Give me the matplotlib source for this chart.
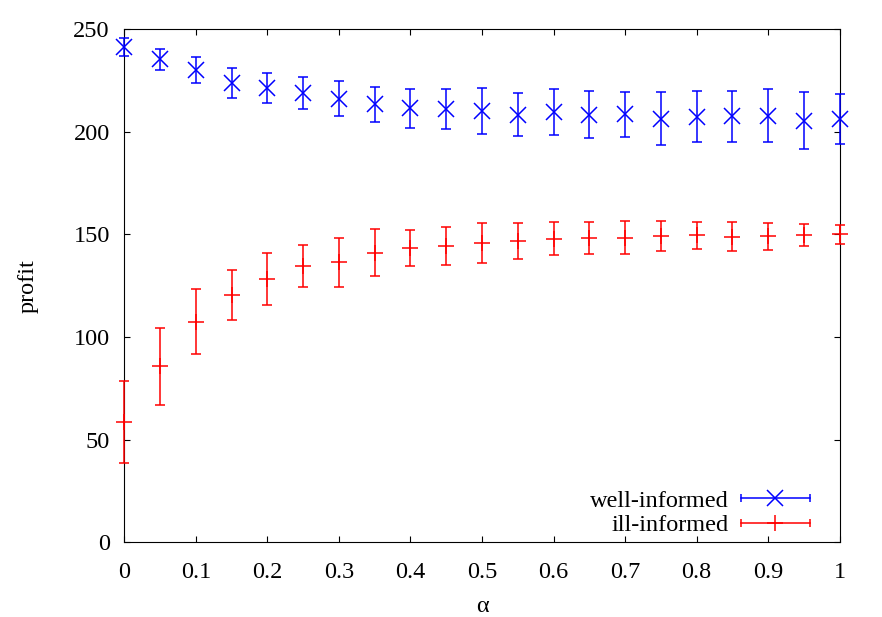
import numpy as np
import matplotlib
matplotlib.use("Agg")
import matplotlib.pyplot as plt
from matplotlib.lines import Line2D
from matplotlib.legend_handler import HandlerLine2D, HandlerTuple

plt.rcParams.update({"font.family": "Liberation Serif", "font.size": 17.5})

alpha = [0, 0.05, 0.1, 0.15, 0.2, 0.25, 0.3, 0.35, 0.4, 0.45, 0.5,
         0.55, 0.6, 0.65, 0.7, 0.75, 0.8, 0.85, 0.9, 0.95, 1.0]

well_mean = [241.1, 235.2, 230.0, 223.9, 221.5, 218.7, 216.0, 213.3, 211.4, 211.2, 210.0,
             208.2, 209.5, 208.3, 208.5, 206.3, 207.2, 207.4, 207.7, 205.4, 206.2]
well_err = [4.3, 5.1, 6.4, 7.3, 7.3, 7.8, 8.6, 8.6, 9.6, 9.8, 11.3,
            10.5, 11.1, 11.6, 11.0, 12.8, 12.4, 12.3, 12.9, 13.8, 12.2]

ill_mean = [58.8, 85.8, 107.5, 120.6, 128.3, 134.6, 136.4, 141.1, 143.4, 144.5, 145.7,
            146.9, 147.9, 148.2, 148.4, 149.1, 149.6, 148.9, 149.1, 149.7, 150.1]
ill_err = [20.0, 18.7, 15.8, 12.2, 12.8, 10.4, 11.9, 11.6, 8.9, 9.3, 9.6,
           8.7, 8.2, 7.8, 8.0, 7.2, 6.6, 7.0, 6.6, 5.4, 4.6]

fig = plt.figure(figsize=(8.82, 6.17), dpi=100)
ax = fig.add_axes([0.141, 0.121, 0.811, 0.832])

blue = "#0000ff"
red = "#ff0000"
lw = 1.1

ax.errorbar(alpha, well_mean, yerr=well_err, fmt="x", color=blue, ms=11.5,
            mew=lw, elinewidth=lw, capsize=3.6, capthick=lw, clip_on=False, zorder=3)
ax.errorbar(alpha, ill_mean, yerr=ill_err, fmt="+", color=red, ms=11.5,
            mew=lw, elinewidth=lw, capsize=3.6, capthick=lw, clip_on=False, zorder=3)

ax.set_xlim(0, 1)
ax.set_ylim(0, 250)
ax.set_xticks(np.arange(0, 1.01, 0.1))
ax.set_xticklabels(["0", "0.1", "0.2", "0.3", "0.4", "0.5", "0.6", "0.7", "0.8", "0.9", "1"])
ax.set_yticks(np.arange(0, 251, 50))
ax.tick_params(direction="in", length=4.5, width=0.8, top=True, right=True)
ax.tick_params(axis="x", pad=14)
ax.tick_params(axis="y", pad=10.5)

ax.set_xlabel("α", va="center")
ax.xaxis.set_label_coords(0.5, -0.1256)
ax.set_ylabel("profit", va="center")
ax.yaxis.set_label_coords(-0.1346, 0.5)

# gnuplot-style legend samples: horizontal bar with end caps and a centre marker
w_bar = Line2D([], [], color=blue, lw=lw, marker="|", ms=6, mew=lw)
w_mk = Line2D([], [], color=blue, lw=0, marker="x", ms=11.5, mew=lw)
i_bar = Line2D([], [], color=red, lw=lw, marker="|", ms=6, mew=lw)
i_mk = Line2D([], [], color=red, lw=0, marker="+", ms=11.5, mew=lw)
hmap = {w_bar: HandlerLine2D(numpoints=2), i_bar: HandlerLine2D(numpoints=2),
        w_mk: HandlerLine2D(numpoints=1), i_mk: HandlerLine2D(numpoints=1),
        tuple: HandlerTuple(ndivide=1, pad=0)}
ax.legend([(w_bar, w_mk), (i_bar, i_mk)], ["well-informed", "ill-informed"],
          handler_map=hmap, loc="lower right", frameon=False, markerfirst=False,
          handlelength=3.45, handletextpad=0.2, labelspacing=0.1,
          borderaxespad=0, bbox_to_anchor=(0.982, -0.007))

fig.savefig("out.png", dpi=100)
